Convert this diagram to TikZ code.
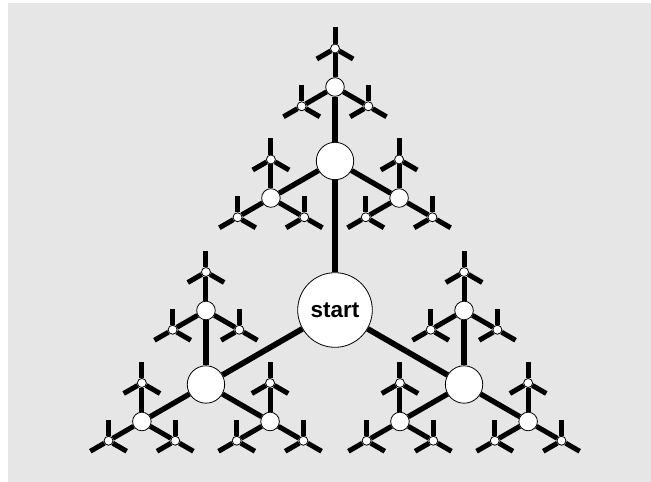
\documentclass[tikz,border=0pt]{standalone}
\usepackage{fontspec}
\setmainfont{Liberation Sans}
\usetikzlibrary{calc}
\pgfdeclarelayer{back}
\pgfdeclarelayer{edges}
\pgfsetlayers{back,edges,main}
\definecolor{bggray}{HTML}{E6E6E6}
\begin{document}
\begin{tikzpicture}[x=1pt,y=1pt,
  circ/.style={circle,draw=black,line width=0.8pt,fill=white,inner sep=0pt},
  lvzero/.style={circ,minimum size=74.6pt},
  lvone/.style={circ,minimum size=37.4pt},
  lvtwo/.style={circ,minimum size=18.6pt},
  lvthree/.style={circ,minimum size=9pt},
  edgeA/.style={line width=5.7pt},
  edgeB/.style={line width=5.3pt},
  edgeC/.style={line width=5pt},
  lbl/.style={font=\bfseries\fontsize{22.5}{24}\selectfont}]
\begin{pgfonlayer}{back}
  \fill[white] (0,0) rectangle (651,482);
  \fill[bggray] (8,0) rectangle (651,479);
\end{pgfonlayer}
\useasboundingbox (0,0) rectangle (651,482);
\node[lvzero,lbl] (s) at (335,172) {start};
\foreach \a in {90,210,330}{
  \node[lvone] (n\a) at ($(s)+(\a:149)$) {};
  \begin{pgfonlayer}{edges}
    \draw[edgeA] (s) -- (n\a);
  \end{pgfonlayer}
  \foreach \b in {90,210,330}{
    \node[lvtwo] (n\a-\b) at ($(n\a)+(\b:74)$) {};
    \begin{pgfonlayer}{edges}
      \draw[edgeB] (n\a) -- (n\a-\b);
    \end{pgfonlayer}
    \foreach \c in {90,210,330}{
      \node[lvthree] (n\a-\b-\c) at ($(n\a-\b)+(\c:38.5)$) {};
      \begin{pgfonlayer}{edges}
        \draw[edgeC] (n\a-\b) -- (n\a-\b-\c);
      \end{pgfonlayer}
      \foreach \d in {90,210,330}{
        \coordinate (n\a-\b-\c-\d) at ($(n\a-\b-\c)+(\d:21)$);
        \begin{pgfonlayer}{edges}
          \draw[edgeC] (n\a-\b-\c) -- (n\a-\b-\c-\d);
        \end{pgfonlayer}
      }
    }
  }
}
\end{tikzpicture}
\end{document}
